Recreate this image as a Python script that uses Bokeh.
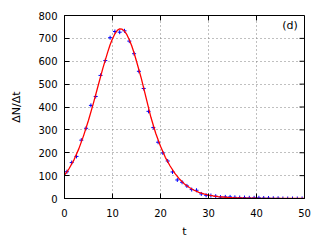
from bokeh.plotting import figure
from bokeh.models import Range1d, Label, FixedTicker
from bokeh.embed import file_html
from bokeh.resources import INLINE

t_data = [0.5, 1.5, 2.5, 3.5, 4.5, 5.5, 6.5, 7.5, 8.5, 9.5, 10.5, 11.5, 12.5, 13.5,
          14.5, 15.5, 16.5, 17.5, 18.5, 19.5, 20.5, 21.5, 22.5, 23.5, 24.5, 25.5,
          26.5, 27.5, 28.5, 29.5, 30.5, 31.5, 32.5, 33.5, 34.5, 35.5, 36.5, 37.5,
          38.5, 39.5, 40.5, 41.5, 42.5, 43.5, 44.5, 45.5, 46.5, 47.5, 48.5, 49.5]
n_data = [117, 157, 184, 255, 307, 407, 446, 538, 603, 703, 730, 727, 733, 688,
          633, 556, 481, 381, 310, 246, 199, 164, 116, 81, 71, 55,
          39, 36, 20, 14, 13, 10, 6, 7, 7, 5, 4, 4,
          3, 3, 3, 2, 2, 1, 1, 0, 0, 0, 0, 0]

# fitted curve
t_fit = [0, 1, 2, 3, 4, 5, 6, 7, 8, 9, 9.5, 10, 10.5, 11, 11.5, 12, 12.5, 13, 13.5,
         14, 14.5, 15, 16, 17, 18, 19, 20, 21, 22, 23, 24, 25, 26, 27, 28, 29, 30,
         31, 32, 33, 34, 35, 36, 37, 38, 39, 40, 42, 44, 46, 48, 50]
n_fit = [102, 132, 170, 218, 276, 342, 415, 493, 570, 640, 672, 698, 720, 735, 742,
         740, 732, 716, 694, 668, 636, 600, 525, 440, 355, 285, 228, 180, 142, 110,
         84, 63, 48, 36, 27, 20, 15, 11, 8.5, 6.5, 5, 3.8, 2.9, 2.2, 1.7, 1.3, 1.0,
         0.6, 0.4, 0.25, 0.15, 0.1]

x_ticks = [0, 10, 20, 30, 40, 50]
y_ticks = [0, 100, 200, 300, 400, 500, 600, 700, 800]

FONT = "DejaVu Sans"
FS = "10px"
X0, X1, Y0, Y1 = 0, 50, 0, 800
FW, FH = 240, 184
TICK = 5

p = figure(width=320, height=240, output_backend="svg", toolbar_location=None,
           x_range=Range1d(X0, X1), y_range=Range1d(Y0, Y1),
           min_border_left=64, min_border_right=16, min_border_top=15, min_border_bottom=41)
p.outline_line_color = "black"
p.outline_line_width = 1
p.background_fill_color = "white"
p.border_fill_color = "white"

for ax, ticks in ((p.xaxis[0], x_ticks), (p.yaxis[0], y_ticks)):
    ax.ticker = FixedTicker(ticks=ticks)
    ax.major_tick_in = TICK
    ax.major_tick_out = 0
    ax.minor_tick_in = 0
    ax.minor_tick_out = 0
    ax.axis_line_color = "black"
    ax.major_tick_line_color = "black"
    ax.major_label_text_font = FONT
    ax.major_label_text_font_size = FS
    ax.major_label_text_color = "black"
    ax.axis_label_text_font = FONT
    ax.axis_label_text_font_size = "11px"
    ax.axis_label_text_font_style = "normal"
    ax.axis_label_text_color = "black"

p.xaxis[0].axis_label = "t"
p.xaxis[0].major_label_standoff = 10
p.xaxis[0].axis_label_standoff = 5
p.yaxis[0].axis_label = "ΔN/Δt"
p.yaxis[0].major_label_standoff = 7
p.yaxis[0].axis_label_standoff = 12

# mirrored ticks on top and right edges of the frame
dy = TICK * (Y1 - Y0) / FH
dx = TICK * (X1 - X0) / FW
p.segment(x0=x_ticks, x1=x_ticks, y0=[Y1] * len(x_ticks), y1=[Y1 - dy] * len(x_ticks),
          line_color="black", line_width=1)
p.segment(x0=[X1] * len(y_ticks), x1=[X1 - dx] * len(y_ticks), y0=y_ticks, y1=y_ticks,
          line_color="black", line_width=1)

p.xgrid.ticker = FixedTicker(ticks=x_ticks[1:-1])
p.ygrid.ticker = FixedTicker(ticks=y_ticks[1:-1])
for g in (p.xgrid[0], p.ygrid[0]):
    g.grid_line_color = "#808080"
    g.grid_line_dash = "1 3"
    g.grid_line_width = 1

p.scatter(t_data, n_data, marker="cross", size=4, line_color="#0000ff", line_width=1)
p.line(t_fit, n_fit, line_color="#ff0000", line_width=1.3)

p.add_layout(Label(x=48.6, y=785, text="(d)", text_align="right", text_baseline="top",
                   text_font=FONT, text_font_size="11px", text_font_style="normal",
                   text_color="black"))

open("out.html", "w").write(file_html(p, INLINE))
